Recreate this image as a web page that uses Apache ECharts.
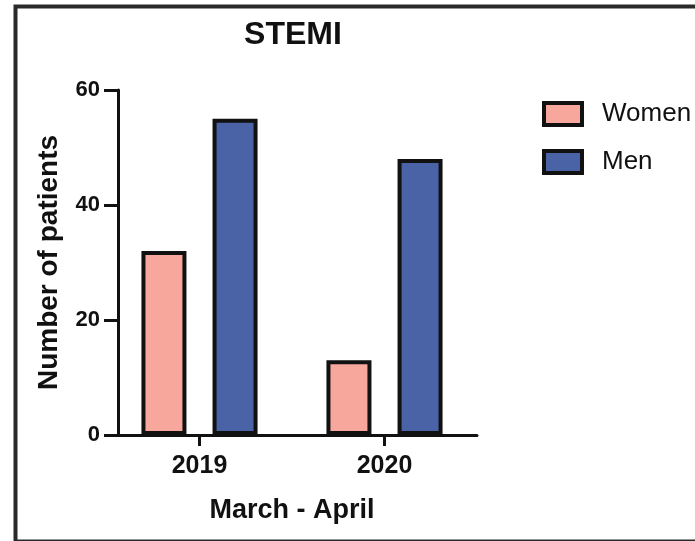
<!DOCTYPE html>
<html>
<head>
<meta charset="utf-8">
<script src="https://cdn.jsdelivr.net/npm/echarts@6/dist/echarts.min.js"></script>
<style>html,body{margin:0;padding:0;background:#fff}#c{width:695px;height:541px}</style>
</head>
<body>
<div id="c"></div>
<script>
const categories = ['2019', '2020'];
const women = [32, 13];
const men = [55, 48];
const seriesNames = ['Women', 'Men'];
const yTicks = [0, 20, 40, 60];

const FONT = '"Liberation Sans", Arial, Helvetica, sans-serif';
const chart = echarts.init(document.getElementById('c'), null, {renderer: 'canvas'});
chart.setOption({
  backgroundColor: '#ffffff',
  animation: false,
  title: {
    text: 'STEMI', left: 288, textAlign: 'center', top: 14,
    textStyle: {fontFamily: FONT, fontSize: 32, fontWeight: 'bold', color: '#111'}
  },
  legend: {
    orient: 'vertical', left: 542, top: 101, padding: 0,
    itemWidth: 38, itemHeight: 22, itemGap: 22,
    icon: 'rect',
    itemStyle: {borderColor: '#111', borderWidth: 4},
    textStyle: {fontFamily: FONT, fontSize: 26, color: '#111', padding: [0, 0, 0, 15]},
    data: seriesNames
  },
  grid: {left: 107, width: 370, top: 90, height: 345},
  xAxis: {
    type: 'category', data: categories,
    axisLine: {lineStyle: {color: '#111', width: 3}},
    axisTick: {show: true, alignWithLabel: true, length: 11, lineStyle: {color: '#111', width: 3}},
    axisLabel: {margin: 19, fontFamily: FONT, fontSize: 25, fontWeight: 'bold', color: '#111'},
    name: 'March - April', nameLocation: 'middle', nameGap: 62,
    nameTextStyle: {fontFamily: FONT, fontSize: 27, fontWeight: 'bold', color: '#111'}
  },
  yAxis: {
    type: 'value', min: yTicks[0], max: yTicks[yTicks.length - 1], interval: 20,
    offset: -11,
    splitLine: {show: false},
    axisLine: {show: true, lineStyle: {color: '#111', width: 3}},
    axisTick: {show: true, length: 14, lineStyle: {color: '#111', width: 3}},
    axisLabel: {margin: 18, fontFamily: FONT, fontSize: 22, fontWeight: 'bold', color: '#111'},
    name: 'Number of patients', nameLocation: 'middle', nameGap: 55,
    nameTextStyle: {fontFamily: FONT, fontSize: 28, fontWeight: 'bold', color: '#111'}
  },
  series: [
    {name: seriesNames[0], type: 'bar', data: women, barWidth: 45, barGap: '58%',
     itemStyle: {color: '#F8A79C', borderColor: '#111', borderWidth: 4}},
    {name: seriesNames[1], type: 'bar', data: men, barWidth: 45,
     itemStyle: {color: '#4A63A7', borderColor: '#111', borderWidth: 4}}
  ],
  graphic: [{
    type: 'rect', left: 13, top: 4, z: 100, silent: true,
    shape: {width: 720, height: 535},
    style: {fill: null, stroke: '#2a2a2a', lineWidth: 4}
  }]
});
</script>
</body>
</html>
